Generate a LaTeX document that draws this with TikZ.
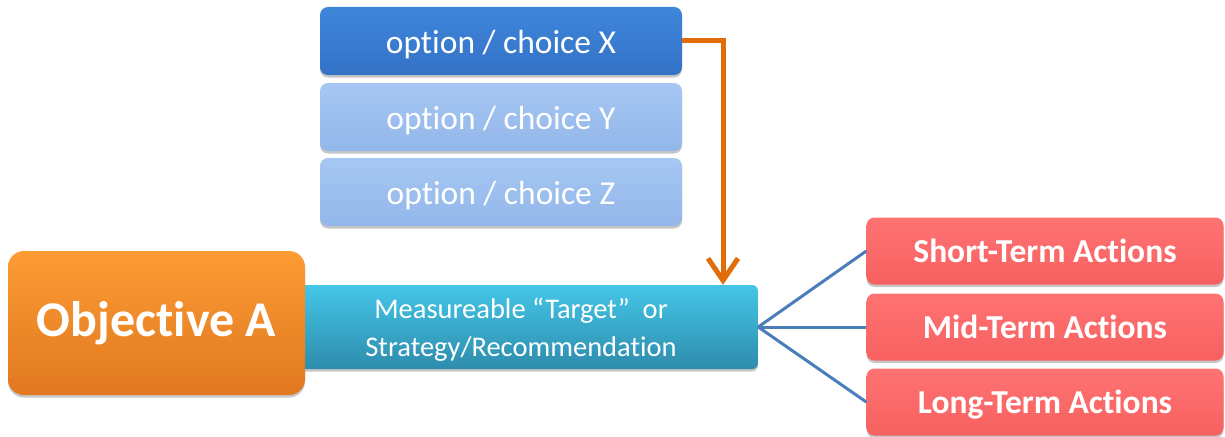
\documentclass[tikz,border=0pt]{standalone}
\usepackage{fontspec}
\setmainfont{Carlito}[Ligatures=NoCommon]
\usetikzlibrary{arrows.meta,shadows}
\definecolor{objtop}{HTML}{FD9C35}
\definecolor{objbot}{HTML}{E0781F}
\definecolor{tealtop}{HTML}{44C6E8}
\definecolor{tealbot}{HTML}{2E8CAC}
\definecolor{xtop}{HTML}{3E86DB}
\definecolor{xbot}{HTML}{3472C6}
\definecolor{ytop}{HTML}{A6C7F3}
\definecolor{ybot}{HTML}{93B7EA}
\definecolor{redtop}{HTML}{FF7373}
\definecolor{redbot}{HTML}{F76060}
\definecolor{arrowor}{HTML}{E36C0A}
\definecolor{linkblue}{HTML}{4A7EBB}
\tikzset{
  boxbase/.style={rounded corners=8pt, draw=none, text=white, align=center, inner sep=0pt,
    drop shadow={shadow xshift=0pt, shadow yshift=-2.5pt, opacity=0.45}},
  objbox/.style={boxbase, top color=objtop, bottom color=objbot, minimum width=297pt, minimum height=144pt,
    rounded corners=16pt, font=\fontsize{50}{56}\selectfont\bfseries},
  tealbox/.style={boxbase, top color=tealtop, bottom color=tealbot, minimum width=468pt, minimum height=84pt,
    rounded corners=6pt},
  optx/.style={boxbase, top color=xtop, bottom color=xbot, minimum width=362pt, minimum height=68pt,
    text height=28pt, text depth=4pt, font=\fontsize{33.5}{36}\selectfont},
  opty/.style={optx, top color=ytop, bottom color=ybot},
  actbox/.style={boxbase, top color=redtop, bottom color=redbot, minimum width=357pt, minimum height=67pt,
    text height=27pt, text depth=4pt, font=\fontsize{33.5}{36}\selectfont\bfseries},
  link/.style={draw=linkblue, line width=3pt},
  choicearrow/.style={draw=arrowor, line width=5pt, -{Straight Barb[length=22pt, width=30pt, line width=5pt]}}
}
\begin{document}
\begin{tikzpicture}[x=1pt, y=-1pt]
\useasboundingbox (0,0) rectangle (1225,436);
% teal target box (behind the objective)
\node[tealbox] (teal) at (524,327) {};
\node[text=white, align=center, font=\fontsize{28.5}{38}\selectfont, inner sep=0pt] (tealtext) at (521,330)
  {Measureable “Target”\ \ or\\Strategy/Recommendation};
\node[objbox] (obj) at (156.5,323) {Objective A};
% options
\node[optx] (optX) at (501,41) {option / choice X};
\node[opty] (optY) at (501,117) {option / choice Y};
\node[opty] (optZ) at (501,192) {option / choice Z};
% actions
\node[actbox] (short) at (1045,251) {Short-Term Actions};
\node[actbox] (mid) at (1045,327) {Mid-Term Actions};
\node[actbox] (long) at (1045,402) {Long-Term Actions};
% connectors
\coordinate (turn) at (723,41);
\draw[choicearrow] (optX.east) -- (turn) -- (turn |- teal.north);
\draw[link] (teal.east) -- (short.west);
\draw[link] (teal.east) -- (mid.west);
\draw[link] (teal.east) -- (long.west);
\end{tikzpicture}
\end{document}
